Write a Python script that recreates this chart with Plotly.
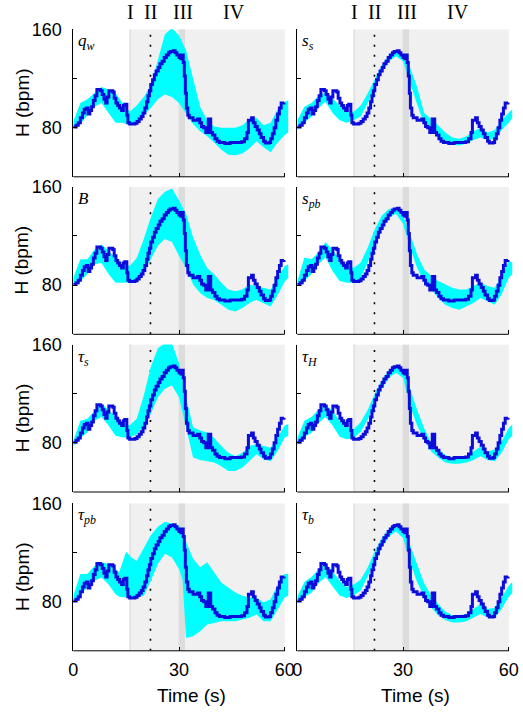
import plotly.graph_objects as go

# ---------------- data ----------------
# measured heart rate (step line), time in s, HR in bpm
HR_T = [0.0, 0.8, 1.4, 2.0, 2.6, 3.1, 3.7, 4.2, 4.7, 5.2, 5.7, 6.2, 6.7, 7.7, 8.2, 8.7, 9.2, 9.6,
        10.1, 11.2, 11.6, 12.1, 12.6, 13.1, 13.7, 14.2, 14.6, 15.2, 15.5, 16.0, 17.5, 18.1, 18.7,
        19.3, 19.8, 20.3, 20.8, 21.2, 21.6, 22.0, 22.5, 23.0, 23.5, 24.1, 24.6, 25.2, 25.8, 26.4,
        27.0, 27.5, 28.4, 28.9, 29.4, 30.0, 30.5, 30.8, 31.2, 31.5, 31.8, 32.1, 32.5, 32.9, 34.0,
        35.3, 35.9, 36.4, 37.0, 37.6, 38.3, 38.7, 39.0, 39.5, 40.2, 40.8, 41.5, 43.0, 44.5, 46.0,
        47.8, 48.6, 49.3, 49.7, 50.6, 51.1, 51.6, 52.2, 52.8, 53.3, 54.0, 54.5, 55.6, 56.0, 56.5,
        57.0, 57.5, 58.0, 58.5, 59.0, 59.8]
HR_V = [80.5, 82, 84, 88, 92, 95, 96, 91, 94, 97, 102, 106, 111, 110, 107, 103, 100, 105,
        110, 109, 104, 100, 98, 96, 94, 98, 99, 90, 84, 83, 83.5, 85, 87,
        89, 92, 96, 101, 106, 110, 115, 119, 123, 126, 129, 132, 134, 137, 139,
        141, 142, 142.5, 141, 139, 137, 136, 139, 133, 122, 108, 96, 90, 88, 86,
        87, 84, 81, 80, 76, 87, 87, 76, 74, 71, 69, 68, 67, 68, 68,
        68.5, 71, 76, 86, 88, 84, 81, 78, 75, 72, 69, 67.5, 68, 71, 75,
        80, 86, 91, 96, 100, 100.5]

# model envelope (cyan band) sampled on a common time grid
BAND_T = [0, 2, 4, 6, 8, 10, 12, 14, 16, 18, 20, 22, 24, 26, 28, 30, 32, 34, 36, 38, 40,
          42, 44, 46, 48, 50, 52, 54, 56, 58, 60, 61]

QW_UP = [85, 100, 103, 108, 113, 111, 108, 100, 93, 98, 105, 114, 135, 156, 161, 155, 143, 120, 97, 86, 81,
         80, 80, 80, 82, 87, 88, 82, 84, 95, 101, 102]
QW_LO = [79, 83, 90, 97, 100, 92, 84, 84, 82, 86, 90, 96, 103, 107, 105, 100, 92, 83, 77, 73, 68,
         62, 58, 57.5, 59, 63, 69, 64, 60, 68, 74, 76]

SS_UP = [86, 97, 100, 106, 109, 104, 98, 93, 93, 98, 108, 120, 131, 139, 142, 139, 129, 113, 92, 87, 82,
         76, 72, 71, 73, 77, 80, 76, 78, 86, 92, 95]
SS_LO = [78, 84, 89, 96, 101, 92, 86, 84, 86, 89, 100, 112, 125, 134, 138, 134, 115.6, 99, 83, 80, 73,
         69, 66, 65.5, 67, 70, 72, 70, 71, 78, 84, 88]

B_UP = [86, 101, 101, 109, 113, 108, 102, 98, 95.6, 102, 117.5, 135, 150, 156, 158.6, 149, 138, 119, 105, 94, 88.8,
        82, 76.4, 75, 76.4, 80.5, 79, 78, 76.4, 86, 95.6, 97]
B_LO = [79, 83, 89, 97, 98, 89, 82, 82, 82, 84.7, 91.5, 101, 112, 117.5, 115, 104, 94, 80.5, 73.7, 69.6, 68,
        64, 60, 58.6, 61.4, 65.5, 68, 65.5, 62.7, 72, 83, 86]

SPB_UP = [83, 102.5, 101, 106.6, 114.8, 109, 101, 97, 94, 98.4, 110.7, 125.7, 136.7, 142, 143, 136.7, 121.6, 105, 92.9, 87.4, 83.3,
          80.5, 77.8, 76.4, 76.4, 79.2, 82, 79.2, 77.8, 87.4, 99.7, 98.4]
SPB_LO = [79, 83.3, 88.8, 97, 102.5, 91.5, 83.3, 82, 82, 86, 98.4, 114.8, 127, 135, 138, 129.9, 110.7, 94, 83.3, 76.4, 69.6,
          64, 61.4, 60, 62.7, 65.5, 69.6, 66.8, 64, 72.3, 86, 88.8]

TS_UP = [81.6, 98, 99.5, 106, 112, 107, 101, 96.7, 94, 99.5, 118.6, 142, 157, 161, 161, 144.7, 117, 92.6, 90, 88.5, 84,
         77.5, 72, 69, 72, 77.5, 79, 77.5, 76, 84.4, 94, 95.3]
TS_LO = [77.5, 84, 88.5, 98, 101, 94, 85.7, 84.4, 84.4, 87, 94, 103.6, 117, 124, 126.8, 117, 92.6, 68, 66, 65, 64,
         61, 57, 57, 60, 65, 70.7, 66.6, 65, 73.4, 84.4, 85.7]

TH_UP = [84, 98, 101, 107, 111, 106, 98, 93, 91, 97, 107, 120, 131, 139, 142, 139, 124, 107, 92, 80, 75,
         70, 68, 68, 69, 73, 77, 73, 74.5, 81, 92, 95]
TH_LO = [78, 85, 88, 96, 101, 94, 85, 83, 84, 89, 99, 112, 124, 133, 137, 133, 110, 94, 82, 73, 68,
         64, 63, 63, 64, 66, 69, 66, 65, 72, 83, 85.5]

TB_UP = [84, 96, 100, 106, 111, 105, 97, 92, 94, 98, 108, 121, 132, 139, 143, 140, 126, 110, 95, 85, 78,
         72, 69, 69, 70, 74, 78, 74, 75, 83, 93, 96]
TB_LO = [78, 84, 87, 95, 100, 93, 85, 83, 85, 89, 100, 112, 124, 133, 137, 132, 112, 96, 84, 75, 69,
         65, 63, 63, 64, 67, 70, 67, 67, 74, 84, 87]

# tau_pb has its own (finer) grid because of the sharp features
TPB_T = [0, 2, 4, 6, 8, 10, 12, 13, 15, 16.5, 18, 20, 22, 24, 26, 28, 30, 31, 32, 34, 36, 38, 40,
         42, 44, 46, 48, 50, 52, 54, 56, 58, 60, 61]
TPB_UP = [84.7, 102.5, 102.5, 109, 112, 110.7, 106.6, 104, 120.5, 116, 113, 124, 134, 141, 145, 143.6, 142, 138, 128.5,
          114.8, 108, 112, 103.8, 95.6, 91.5, 87.4, 84.7, 83.3, 83.3, 79.2, 82, 94, 102.5, 102.5]
TPB_LO = [77.8, 86, 91.5, 97, 99.7, 94, 86, 84, 83.3, 83, 83.3, 84.7, 97, 110.7, 119, 116, 106.6, 98, 50.4,
          51.8, 55.9, 61.4, 62.7, 64, 64, 64, 65.5, 66.8, 69.6, 64, 64, 73.7, 83.3, 84.7]

PANEL_LABELS = ["<i>q<sub>w</sub></i>", "<i>s<sub>s</sub></i>",
                "<i>B</i>", "<i>s<sub>pb</sub></i>",
                "<i>τ<sub>s</sub></i>", "<i>τ<sub>H</sub></i>",
                "<i>τ<sub>pb</sub></i>", "<i>τ<sub>b</sub></i>"]
BANDS = [(BAND_T, QW_UP, QW_LO), (BAND_T, SS_UP, SS_LO),
         (BAND_T, B_UP, B_LO), (BAND_T, SPB_UP, SPB_LO),
         (BAND_T, TS_UP, TS_LO), (BAND_T, TH_UP, TH_LO),
         (TPB_T, TPB_UP, TPB_LO), (BAND_T, TB_UP, TB_LO)]

PHASE_LABELS = ["I", "II", "III", "IV"]
PHASE_POS = [16.2, 22.0, 31.0, 45.5]
X_TICKS = [0, 30, 60]
Y_TICKS = [80, 160]
Y_MINOR = [120]

# phase boundaries (s)
PHASE_START = 15.9
PHASE_EDGE = 16.4
DOT_T = 21.9
III_START, III_END = 29.9, 31.7
T_END = 60

# ---------------- layout geometry ----------------
W, H = 523, 718
PXS = 211.4 / 60.0
XMAX = 61.5
X0 = [73.3, 297.3]
TOPS = [29.3, 186.8, 344.5, 503.3]
PH = 147.5

SANS = "Liberation Sans, Arial, sans-serif"
SERIF = "Liberation Serif, Times New Roman, serif"

fig = go.Figure()
layout = dict(width=W, height=H, margin=dict(l=0, r=0, t=0, b=0, autoexpand=False),
              plot_bgcolor="white", paper_bgcolor="white", showlegend=False,
              font=dict(family=SANS, color="black"))
shapes, annotations = [], []

for k in range(8):
    row, col = k // 2, k % 2
    ax = "" if k == 0 else str(k + 1)
    xr, yr = "x" + ax, "y" + ax
    xd = [X0[col] / W, (X0[col] + XMAX * PXS) / W]
    yd = [1 - (TOPS[row] + PH) / H, 1 - TOPS[row] / H]
    layout["xaxis" + ax] = dict(domain=xd, range=[0, XMAX], anchor=yr, showline=False,
                                showgrid=False, zeroline=False, ticks="inside", ticklen=4,
                                tickwidth=1, tickcolor="black", tickvals=X_TICKS,
                                showticklabels=(row == 3), tickfont=dict(size=18, family=SANS),
                                ticklabelstandoff=6)
    layout["yaxis" + ax] = dict(domain=yd, range=[40, 160], anchor=xr, showline=True,
                                linecolor="black", linewidth=1, showgrid=False, zeroline=False,
                                ticks="inside", ticklen=4, tickwidth=1, tickcolor="black",
                                tickvals=Y_TICKS,
                                minor=dict(tickvals=Y_MINOR, ticks="inside", ticklen=4,
                                           tickcolor="black", showgrid=False),
                                showticklabels=(col == 0), tickfont=dict(size=18, family=SANS),
                                ticklabelstandoff=7)
    # phase shading
    shapes.append(dict(type="rect", xref=xr, yref=yr, x0=PHASE_START, x1=T_END, y0=40, y1=160,
                       fillcolor="#F0F0F0", line=dict(width=0), layer="below"))
    shapes.append(dict(type="rect", xref=xr, yref=yr, x0=PHASE_START, x1=PHASE_EDGE, y0=40, y1=160,
                       fillcolor="#E0E0E0", line=dict(width=0), layer="below"))
    shapes.append(dict(type="rect", xref=xr, yref=yr, x0=III_START, x1=III_END, y0=40, y1=160,
                       fillcolor="#DCDCDC", line=dict(width=0), layer="below"))
    shapes.append(dict(type="line", xref=xr, yref=yr, x0=DOT_T, x1=DOT_T, y0=40, y1=160,
                       line=dict(color="black", width=1.6, dash="2px,8px"), layer="below"))
    # bottom axis line (only to t=60)
    shapes.append(dict(type="line", xref=xr + " domain", yref=yr + " domain",
                       x0=0, x1=T_END / XMAX, y0=0, y1=0, line=dict(color="black", width=1)))

    bt, up, lo = BANDS[k]
    fig.add_trace(go.Scatter(x=list(bt) + list(bt)[::-1], y=list(up) + list(lo)[::-1],
                             fill="toself", fillcolor="#00FFFF", mode="lines",
                             line=dict(width=0, color="#00FFFF"), xaxis=xr, yaxis=yr,
                             hoverinfo="skip"))
    fig.add_trace(go.Scatter(x=HR_T, y=HR_V, mode="lines", line=dict(color="#0C0CDC", width=3, shape="hv"),
                             xaxis=xr, yaxis=yr))
    annotations.append(dict(text=PANEL_LABELS[k], xref=xr + " domain", yref=yr + " domain",
                            x=0.012, y=1.0, xanchor="left", yanchor="top", showarrow=False,
                            font=dict(family=SERIF, size=17, color="black")))
    if row == 0:
        for lab, pos in zip(PHASE_LABELS, PHASE_POS):
            annotations.append(dict(text=lab, xref=xr, yref="paper", x=pos, y=1 - 12 / H,
                                    xanchor="center", yanchor="middle", showarrow=False,
                                    font=dict(family=SERIF, size=20, color="black")))
    if col == 0:
        annotations.append(dict(text="H (bpm)", xref="paper", yref="paper", x=22 / W,
                                y=1 - (TOPS[row] + PH / 2) / H, textangle=-90,
                                xanchor="center", yanchor="middle", showarrow=False,
                                font=dict(family=SANS, size=19, color="black")))
    if row == 3:
        annotations.append(dict(text="Time (s)", xref="paper", yref="paper",
                                x=(X0[col] + 30 * PXS + 12) / W, y=1 - 695 / H,
                                xanchor="center", yanchor="middle", showarrow=False,
                                font=dict(family=SANS, size=19, color="black")))

layout["shapes"] = shapes
layout["annotations"] = annotations
fig.update_layout(**layout)
fig.write_html("out.html", config={"displayModeBar": False},
               post_script="document.body.style.margin='0px';document.body.style.overflow='hidden';"
                           "document.documentElement.style.overflow='hidden';")
